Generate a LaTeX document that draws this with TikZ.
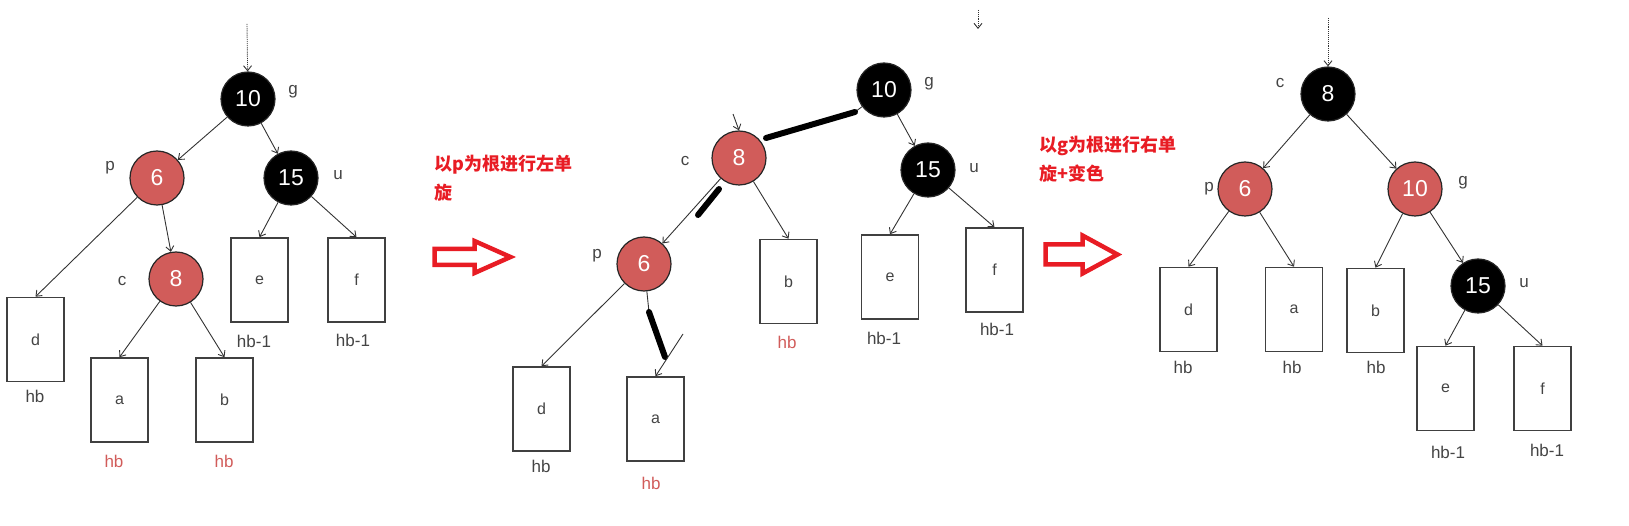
\documentclass[tikz,border=0pt]{standalone}
\usepackage{fontspec}
\setmainfont{Liberation Sans}
\newfontfamily\cjk{Noto Sans CJK SC}
\usepackage{xcolor}
\usepackage{tikz}
\usetikzlibrary{positioning,arrows.meta,calc}

\definecolor{nodered}{RGB}{209,92,90}
\definecolor{notered}{RGB}{232,28,36}
\definecolor{inkgray}{RGB}{68,68,68}

\begin{document}
\begin{tikzpicture}[
  x=1pt, y=-1pt,
  rb/.style={circle, draw=black!85, line width=1.2pt, minimum size=54pt,
             inner sep=0pt, text=white, font=\fontsize{23}{23}\selectfont},
  blk/.style={rb, fill=black},
  rd/.style={rb, fill=nodered},
  leaf/.style={draw=black!75, line width=1.6pt, minimum width=57pt,
               minimum height=84pt, inner sep=0pt, text=inkgray,
               font=\fontsize{16}{16}\selectfont},
  tag/.style={text=inkgray, inner sep=0pt, font=\fontsize{17}{17}\selectfont},
  ht/.style={tag},
  htred/.style={tag, text=nodered},
  plain/.style={line width=0.9pt, draw=black!80},
  edge/.style={plain, -{Straight Barb[length=5pt,width=8pt]}},
  entry/.style={edge, densely dotted},
  hand/.style={line width=6pt, line cap=round},
  note/.style={text=notered, align=left, inner sep=0pt,
               font=\cjk\bfseries\fontsize{18}{29}\selectfont},
  turn/.style={draw=notered, line width=4.5pt, line join=miter},
]

\useasboundingbox (0,0) rectangle (1629,526);

% ---- before: c is the inner grandchild ----
\node[blk] (g1) at (248,99) {10};
\node[rd]  (p1) at (157,178) {6};
\node[blk] (u1) at (291,178) {15};
\node[rd]  (c1) at (176,279) {8};

\node[tag] at (293,92)  {g};
\node[tag] at (110,168) {p};
\node[tag] at (338,175) {u};
\node[tag] at (122,281) {c};

\node[leaf] (d1) at (35.5,339.5) {d};
\node[leaf] (a1) at (119.5,400)  {a};
\node[leaf] (b1) at (224.5,400)  {b};
\node[leaf] (e1) at (259.5,280)  {e};
\node[leaf] (f1) at (356.5,280)  {f};

\node[ht]    at (35,396)  {hb};
\node[htred] at (114,461) {hb};
\node[htred] at (224,461) {hb};
\node[ht]    at (254,341) {hb-1};
\node[ht]    at (353,340) {hb-1};

\coordinate (top1) at (247,24);
\draw[entry] (top1) -- (g1);
\foreach \s/\t in {g1/p1, g1/u1, p1/c1}
  \draw[edge] (\s) -- (\t);
\foreach \s/\t in {p1/d1, c1/a1, c1/b1, u1/e1, u1/f1}
  \draw[edge] (\s) -- (\t.north);

% ---- left rotation round p ----
\node[note, anchor=west] (note1) at (434,178) {以p为根进行左单\\旋};
\draw[turn] (434.5,249) -- ++(40,0) -- ++(0,-8) -- ++(36,16)
  -- ++(-36,16) -- ++(0,-8) -- ++(-40,0) -- cycle;

\node[blk] (g2) at (884,90)  {10};
\node[rd]  (c2) at (739,158) {8};
\node[blk] (u2) at (928,170) {15};
\node[rd]  (p2) at (644,264) {6};

\node[tag] at (929,84)  {g};
\node[tag] at (685,161) {c};
\node[tag] at (974,168) {u};
\node[tag] at (597,256) {p};

\node[leaf] (d2) at (541.5,409) {d};
\node[leaf] (a2) at (655.5,419) {a};
\node[leaf] (b2) at (788.5,281.5) {b};
\node[leaf] (e2) at (890,277) {e};
\node[leaf] (f2) at (994.5,270) {f};

\node[ht]    at (541,466) {hb};
\node[htred] at (651,483) {hb};
\node[htred] at (787,342) {hb};
\node[ht]    at (884,338) {hb-1};
\node[ht]    at (997,329) {hb-1};

\coordinate (top2) at (978,10);
\coordinate (top2e) at (978,29);
\draw[entry] (top2) -- (top2e);

\draw[plain] (g2) -- ($(g2)+(-29,22)$);
\draw[hand] ($(g2)+(-29,22)$) -- ($(c2)+(27,-20)$);
\coordinate (c2in) at (733,114);
\draw[edge] (c2in) -- (c2.north);

\draw[edge] (c2) -- (p2);
\draw[hand] ($(c2)+(-20,31)$) -- ($(c2)+(-41,57)$);

\draw[plain] (p2) -- ($(p2)+(5,48)$);
\draw[hand] ($(p2)+(5,48)$) -- ($(p2)+(21,93)$);
\coordinate (a2in) at (683,334);
\draw[edge] (a2in) -- (a2.north);

\draw[edge] (g2) -- (u2);
\foreach \s/\t in {p2/d2, c2/b2, u2/e2, u2/f2}
  \draw[edge] (\s) -- (\t.north);

% ---- right rotation round g, recolour ----
\node[note, anchor=west] (note2) at (1039,159) {以g为根进行右单\\旋+变色};
\draw[turn] (1045.5,244.5) -- ++(37,0) -- ++(0,-9) -- ++(35,19)
  -- ++(-35,19) -- ++(0,-9) -- ++(-37,0) -- cycle;

\node[blk] (c3) at (1328,94)  {8};
\node[rd]  (p3) at (1245,189) {6};
\node[rd]  (g3) at (1415,189) {10};
\node[blk] (u3) at (1478,286) {15};

\node[tag] at (1280,83)  {c};
\node[tag] at (1209,189) {p};
\node[tag] at (1463,183) {g};
\node[tag] at (1524,283) {u};

\node[leaf] (d3) at (1188.5,309.5) {d};
\node[leaf] (a3) at (1294,309.5)   {a};
\node[leaf] (b3) at (1375.5,310.5) {b};
\node[leaf] (e3) at (1445.5,388.5) {e};
\node[leaf] (f3) at (1542.5,388.5) {f};

\node[ht] at (1183,367) {hb};
\node[ht] at (1292,367) {hb};
\node[ht] at (1376,367) {hb};
\node[ht] at (1448,452) {hb-1};
\node[ht] at (1547,450) {hb-1};

\coordinate (top3) at (1328,18);
\draw[entry] (top3) -- (c3);
\foreach \s/\t in {c3/p3, c3/g3, g3/u3}
  \draw[edge] (\s) -- (\t);
\foreach \s/\t in {p3/d3, p3/a3, g3/b3, u3/e3, u3/f3}
  \draw[edge] (\s) -- (\t.north);

\end{tikzpicture}
\end{document}
